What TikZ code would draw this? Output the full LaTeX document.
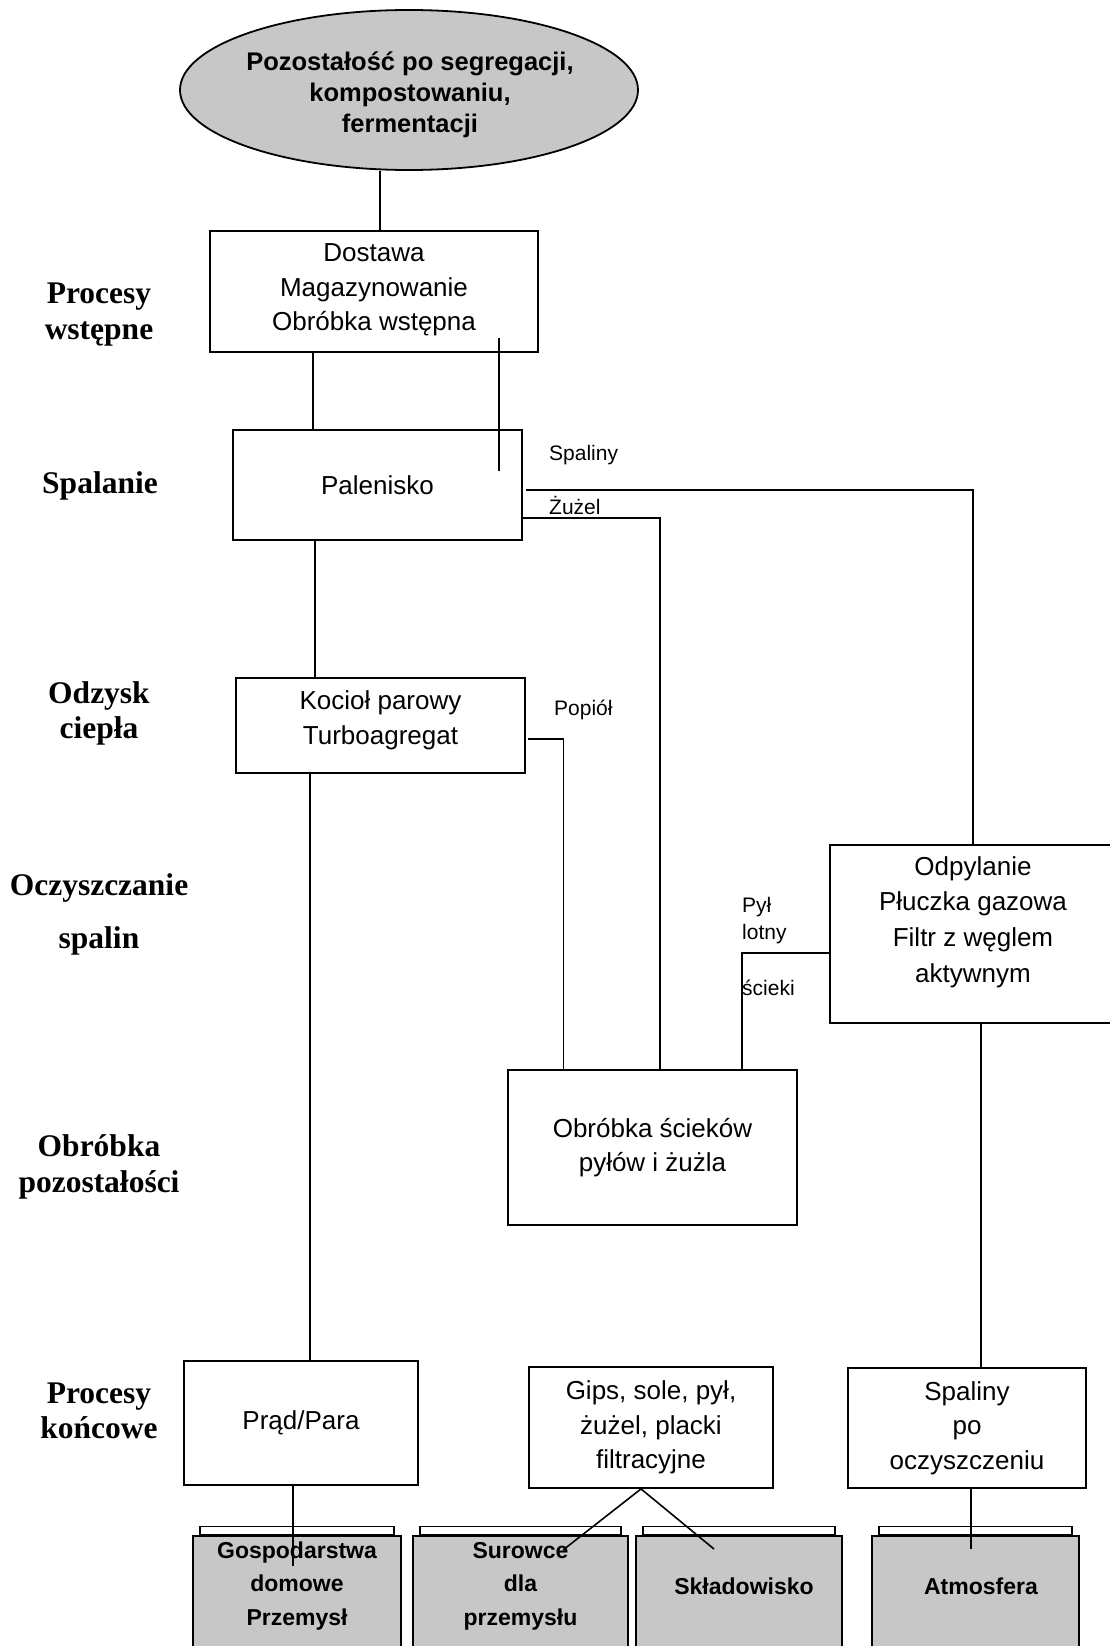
\documentclass[tikz,border=0pt]{standalone}
\usepackage{fontspec}
\setmainfont{Liberation Sans}
\newfontfamily\lserif{Liberation Serif}
\usetikzlibrary{shapes.geometric}
\begin{document}
\begin{tikzpicture}[x=1pt,y=-1pt,
  box/.style={draw,line width=1.8pt,inner sep=0pt,align=center,font=\fontsize{26}{34.5}\selectfont},
  btext/.style={font=\fontsize{26}{34.5}\selectfont,align=center,inner sep=0pt},
  conn/.style={line width=1.6pt},
  thinconn/.style={line width=1.2pt},
  lbl/.style={font=\fontsize{21}{27}\selectfont,anchor=west,inner sep=0pt,align=left},
  phase/.style={font=\lserif\bfseries\fontsize{31.5}{35.5}\selectfont,align=center,inner sep=0pt},
  fbody/.style={draw,line width=1.8pt,fill=black!22,inner sep=0pt,anchor=north,minimum height=140},
  ftab/.style={draw,line width=1.4pt,fill=white,inner sep=0pt,anchor=south,minimum height=8},
  ftext/.style={font=\bfseries\fontsize{23}{33.5}\selectfont,align=center,inner sep=0pt},
]
\useasboundingbox (0,0) rectangle (1110,1646);
\clip (0,0) rectangle (1110,1646);

% top ellipse
\node[draw,ellipse,line width=1.8pt,fill=black!22,minimum width=458,minimum height=160,inner sep=0pt] (e) at (409,90) {};
\node[font=\bfseries\fontsize{25.5}{31}\selectfont,align=center,inner sep=0pt] (et) at (410,95) {Pozostałość po segregacji,\\kompostowaniu,\\fermentacji};

% process boxes
\node[box,minimum width=328,minimum height=121] (b1) at (374,291.5) {};
\node[btext] (b1t) at (374,290) {Dostawa\\Magazynowanie\\Obróbka wstępna};
\node[box,minimum width=289,minimum height=110] (pal) at (377.5,485) {Palenisko};
\node[box,minimum width=289,minimum height=95] (koc) at (380.5,725.5) {};
\node[btext] (koct) at (380.5,720.5) {Kocioł parowy\\Turboagregat};
\node[box,minimum width=290,minimum height=178] (odp) at (975,934) {};
\node[font=\fontsize{26}{35.7}\selectfont,align=center,inner sep=0pt] (odpt) at (973,922) {Odpylanie\\Płuczka gazowa\\Filtr z węglem\\aktywnym};
\node[box,minimum width=289,minimum height=155] (obr) at (652.5,1147.5) {Obróbka ścieków\\pyłów i żużla};
\node[box,minimum width=234,minimum height=124] (prad) at (301,1423) {Prąd/Para};
\node[box,minimum width=244,minimum height=121] (gips) at (651,1427.5) {Gips, sole, pył,\\żużel, placki\\filtracyjne};
\node[box,minimum width=238,minimum height=120] (spo) at (967,1428) {Spaliny\\po\\oczyszczeniu};

% phase labels
\node[phase] (p1) at (99,314.5) {Procesy\\wstępne};
\node[phase] (p2) at (100,486) {Spalanie};
\node[phase] (p3) at (99,713.5) {Odzysk\\ciepła};
\node[phase,font=\lserif\bfseries\fontsize{31.5}{53}\selectfont] (p4) at (99,914) {Oczyszczanie\\spalin};
\node[phase] (p5) at (99,1167) {Obróbka\\pozostałości};
\node[phase] (p6) at (99,1411) {Procesy\\końcowe};

% small flow labels
\node[lbl] (lsp) at (549,455) {Spaliny};
\node[lbl] (lzu) at (549,505) {Żużel};
\node[lbl] (lpo) at (554,710) {Popiół};
\node[lbl] (lpy) at (742,921) {Pył\\lotny};
\node[lbl] (lsc) at (742,988) {ścieki};

% folders
\node[fbody,minimum width=208] (f1) at (297,1535) {};
\node[ftab,minimum width=194] (f1t) at (f1.north) {};
\node[fbody,minimum width=215] (f2) at (520.5,1535) {};
\node[ftab,minimum width=201] (f2t) at (f2.north) {};
\node[fbody,minimum width=206] (f3) at (739,1535) {};
\node[ftab,minimum width=192] (f3t) at (f3.north) {};
\node[fbody,minimum width=207] (f4) at (975.5,1535) {};
\node[ftab,minimum width=193] (f4t) at (f4.north) {};
\node[ftext] (f1x) at (297,1586) {Gospodarstwa\\domowe\\Przemysł};
\node[ftext] (f2x) at (520.5,1586) {Surowce\\dla\\przemysłu};
\node[ftext] (f3x) at (744,1586) {Składowisko};
\node[ftext] (f4x) at (981,1586) {Atmosfera};

% connectors
\coordinate (s1) at ([xshift=-29pt]e.south);
\draw[conn] (s1) -- (s1 |- b1.north);
\coordinate (s2) at ([xshift=-61pt]b1.south);
\draw[conn] (s2) -- (s2 |- pal.north);
\coordinate (s3) at ([xshift=125pt,yshift=15pt]b1.south);
\coordinate (s3e) at ([xshift=121.5pt,yshift=-42pt]pal.north);
\draw[thinconn] (s3) -- (s3e);
\coordinate (s4) at ([xshift=3pt,yshift=-5pt]pal.east);
\coordinate (s4e) at ([xshift=-2pt]odp.north);
\draw[thinconn] (s4) -| (s4e);
\coordinate (s5) at ([yshift=-33pt]pal.east);
\coordinate (s5e) at ([xshift=7.5pt]obr.north);
\draw[thinconn] (s5) -| (s5e);
\coordinate (s6) at ([xshift=-62.5pt]pal.south);
\draw[conn] (s6) -- (s6 |- koc.north);
\coordinate (s7) at ([xshift=2pt,yshift=-13.5pt]koc.east);
\coordinate (s7e) at ([xshift=-89pt]obr.north);
\draw[thinconn] (s7) -| (s7e);
\coordinate (s8) at ([xshift=-70.5pt]koc.south);
\draw[conn] (s8) -- (s8 |- prad.north);
\coordinate (s9) at ([yshift=-19pt]odp.west);
\coordinate (s9e) at ([xshift=89.5pt]obr.north);
\draw[conn] (s9) -| (s9e);
\coordinate (s10) at ([xshift=6pt]odp.south);
\draw[conn] (s10) -- (s10 |- spo.north);
\coordinate (s11) at ([xshift=-8pt]prad.south);
\coordinate (c1) at (293,1566);
\draw[conn] (s11) -- (c1);
\coordinate (s12) at ([xshift=4pt]spo.south);
\coordinate (c4) at (971,1549);
\draw[thinconn] (s12) -- (c4);
\coordinate (s13) at ([xshift=-10pt]gips.south);
\coordinate (c2) at (563,1550);
\coordinate (c3) at (714,1549);
\draw[conn] (c2) -- (s13) -- (c3);
\end{tikzpicture}
\end{document}
